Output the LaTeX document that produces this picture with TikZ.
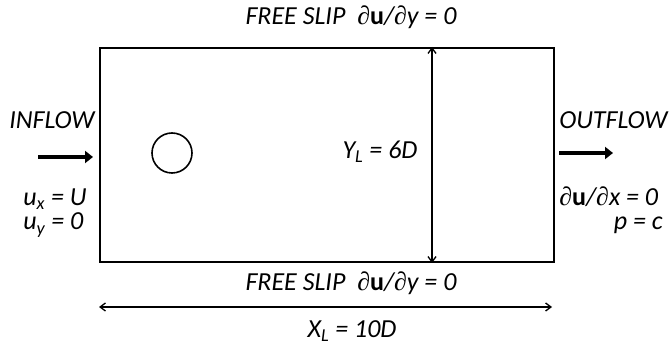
\documentclass[tikz,border=0pt]{standalone}
\usepackage{fontspec}
\setmainfont{Carlito}
\newfontfamily\symf{Liberation Serif}
\usetikzlibrary{arrows.meta}
\newcommand\pd{{\upshape\symf ∂}}
\newcommand\bu{\textbf{\upshape u}}
\begin{document}
\begin{tikzpicture}[x=0.75pt,y=-0.75pt,
  lbl/.style={font=\fontsize{19.5}{23}\selectfont\itshape, inner sep=0pt},
  wall/.style={draw, line width=1.5pt, inner sep=0pt},
  dimarrow/.style={line width=1pt, {Straight Barb[length=4pt,width=6pt]}-{Straight Barb[length=4pt,width=6pt]}},
  flowarrow/.style={line width=3pt, -{Triangle[length=6pt,width=9pt]}}]
\useasboundingbox (0,0) rectangle (670,352);
\node[wall, anchor=north west, minimum width=340.5pt, minimum height=160.5pt] (dom) at (99,47) {};
\node[wall, circle, line width=1.2pt, minimum size=30pt] (cyl) at (172,153) {};
\coordinate (yx) at (432,0);
\draw[dimarrow] (dom.north -| yx) -- (dom.south -| yx);
\coordinate (xl) at (99,307);
\coordinate (xr) at (552,307);
\draw[dimarrow] (xl) -- (xr);
\coordinate (ia) at (38,157);
\coordinate (ib) at (93,157);
\draw[flowarrow] (ia) -- (ib);
\coordinate (oa) at (559,153);
\coordinate (ob) at (613,153);
\draw[flowarrow] (oa) -- (ob);
\node[lbl] (topbc) at (351,17) {FREE SLIP\ \ \pd\bu/\pd y = 0};
\node[lbl] (botbc) at (351,283) {FREE SLIP\ \ \pd\bu/\pd y = 0};
\node[lbl] (xlen) at (352,331) {X\textsubscript{L} = 10D};
\node[lbl] (ylen) at (380,152) {Y\textsubscript{L} = 6D};
\node[lbl, anchor=base west] (inflow) at (9,129) {INFLOW};
\node[lbl, anchor=base west] (ux) at (23,205.5) {u\textsubscript{x} = U};
\node[lbl, anchor=base west] (uy) at (23,230) {u\textsubscript{y} = 0};
\node[lbl, anchor=base west] (outflow) at (559,129) {OUTFLOW};
\node[lbl, anchor=base west] (dudx) at (559,205.5) {\pd\bu/\pd x = 0};
\node[lbl, anchor=base east] (pc) at (663,230) {p = c};
\end{tikzpicture}
\end{document}
